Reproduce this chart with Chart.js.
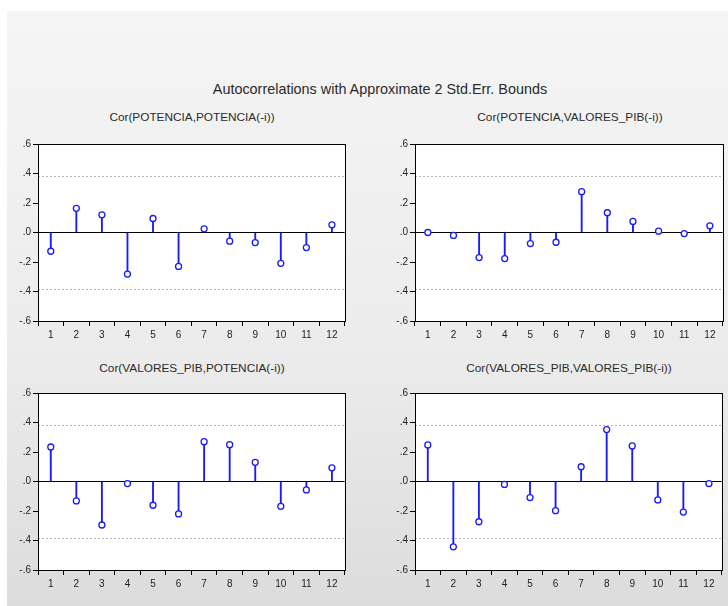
<!DOCTYPE html>
<html>
<head>
<meta charset="utf-8">
<script src="https://cdn.jsdelivr.net/npm/chart.js@4.4.1/dist/chart.umd.min.js"></script>
<style>
  body { margin: 0; width: 728px; height: 606px; background: #fff; position: relative; overflow: hidden;
         font-family: "Liberation Sans", Arial, sans-serif; }
  #fondo { position: absolute; left: 7px; top: 11px; right: 0; bottom: 0;
           background: linear-gradient(#f5f5f5, #ebebeb 60%, #dcdcdc); }
  .titulo { position: absolute; text-align: center; color: #2a2a2a; white-space: nowrap; }
  canvas { position: absolute; }
</style>
</head>
<body>
<div id="fondo"></div>
<div class="titulo" style="left:180px; width:400px; top:81px; font-size:14.4px;">Autocorrelations with Approximate 2 Std.Err. Bounds</div>
<div class="titulo" style="left:42px; width:300px; top:110px; font-size:11.8px;">Cor(POTENCIA,POTENCIA(-i))</div>
<div class="titulo" style="left:420px; width:300px; top:110px; font-size:11.8px;">Cor(POTENCIA,VALORES_PIB(-i))</div>
<div class="titulo" style="left:42px; width:300px; top:361px; font-size:11.8px;">Cor(VALORES_PIB,POTENCIA(-i))</div>
<div class="titulo" style="left:419px; width:300px; top:361px; font-size:11.8px;">Cor(VALORES_PIB,VALORES_PIB(-i))</div>

<canvas id="g1" width="342" height="206" style="left:8px; top:136px;"></canvas>
<canvas id="g2" width="343" height="206" style="left:385px; top:136px;"></canvas>
<canvas id="g3" width="342" height="206" style="left:8px; top:385px;"></canvas>
<canvas id="g4" width="342" height="206" style="left:385px; top:385px;"></canvas>

<script>
// Defasagens (lags)
const lags = ['1', '2', '3', '4', '5', '6', '7', '8', '9', '10', '11', '12'];

// Correlações
const corPotPot = [-0.127, 0.164, 0.120, -0.282, 0.095, -0.230, 0.025, -0.059, -0.068, -0.209, -0.102, 0.052];
const corPotPib = [0.000, -0.020, -0.170, -0.177, -0.075, -0.066, 0.277, 0.134, 0.075, 0.009, -0.007, 0.045];
const corPibPot = [0.234, -0.132, -0.295, -0.014, -0.161, -0.220, 0.270, 0.250, 0.130, -0.168, -0.057, 0.093];
const corPibPib = [0.248, -0.443, -0.273, -0.020, -0.109, -0.198, 0.100, 0.352, 0.241, -0.125, -0.207, -0.014];

// Limite aproximado de 2 erros-padrão
const limite = 0.386;

// Fundo branco, linhas pontilhadas dos limites e moldura
const moldura = {
  id: 'moldura',
  beforeDraw(chart) {
    const a = chart.chartArea;
    const c = chart.ctx;
    c.save();
    c.fillStyle = '#ffffff';
    c.fillRect(a.left, a.top, a.right - a.left, a.bottom - a.top);
    c.restore();
  },
  beforeDatasetsDraw(chart) {
    const a = chart.chartArea;
    const c = chart.ctx;
    const y = chart.scales.y;
    c.save();
    c.strokeStyle = '#b8b8b8';
    c.lineWidth = 1;
    c.setLineDash([2, 2]);
    [limite, -limite].forEach(v => {
      const py = Math.round(y.getPixelForValue(v)) + 0.5;
      c.beginPath();
      c.moveTo(a.left, py);
      c.lineTo(a.right, py);
      c.stroke();
    });
    c.restore();
  },
  afterDraw(chart) {
    const a = chart.chartArea;
    const c = chart.ctx;
    c.save();
    c.strokeStyle = '#000';
    c.lineWidth = 1;
    c.strokeRect(Math.round(a.left) + 0.5, Math.round(a.top) + 0.5,
      Math.round(a.right - a.left), Math.round(a.bottom - a.top));
    c.restore();
  }
};

function formataTick(v) {
  const r = Math.round(v * 10) / 10;
  return r.toFixed(1).replace('0.', '.');
}

function criarGrafico(id, valores) {
  const ctx = document.getElementById(id).getContext('2d');
  return new Chart(ctx, {
    type: 'bar',
    data: {
      labels: lags,
      datasets: [
        {
          type: 'line',
          data: valores,
          showLine: false,
          pointRadius: 3,
          pointBorderWidth: 1.3,
          pointBorderColor: '#1a1aff',
          pointBackgroundColor: '#ffffff',
          order: 0
        },
        {
          data: valores,
          backgroundColor: '#1a1aff',
          barThickness: 1.2,
          order: 1
        }
      ]
    },
    options: {
      responsive: false,
      animation: false,
      layout: { padding: { top: 8, right: 3, left: 0, bottom: 0 } },
      scales: {
        x: {
          offset: true,
          grid: {
            offset: true,
            drawOnChartArea: false,
            drawTicks: true,
            tickLength: 5,
            tickColor: '#000'
          },
          border: { display: true, color: '#000' },
          ticks: {
            color: '#222',
            font: { family: 'Liberation Sans', size: 10 },
            padding: 3,
            maxRotation: 0,
            autoSkip: false
          },
          afterFit: s => { s.height = 21; }
        },
        y: {
          min: -0.6,
          max: 0.6,
          grid: {
            color: c => (c.tick && Math.abs(c.tick.value) < 1e-9) ? '#000' : 'rgba(0,0,0,0)',
            tickColor: '#000',
            tickLength: 5,
            drawTicks: true
          },
          border: { display: true, color: '#000' },
          ticks: {
            stepSize: 0.2,
            color: '#222',
            font: { family: 'Liberation Sans', size: 10 },
            padding: 2,
            callback: v => formataTick(v)
          },
          afterFit: s => { s.width = 30; }
        }
      },
      plugins: {
        legend: { display: false },
        tooltip: { enabled: false }
      }
    },
    plugins: [moldura]
  });
}

criarGrafico('g1', corPotPot);
criarGrafico('g2', corPotPib);
criarGrafico('g3', corPibPot);
criarGrafico('g4', corPibPib);
</script>
</body>
</html>
